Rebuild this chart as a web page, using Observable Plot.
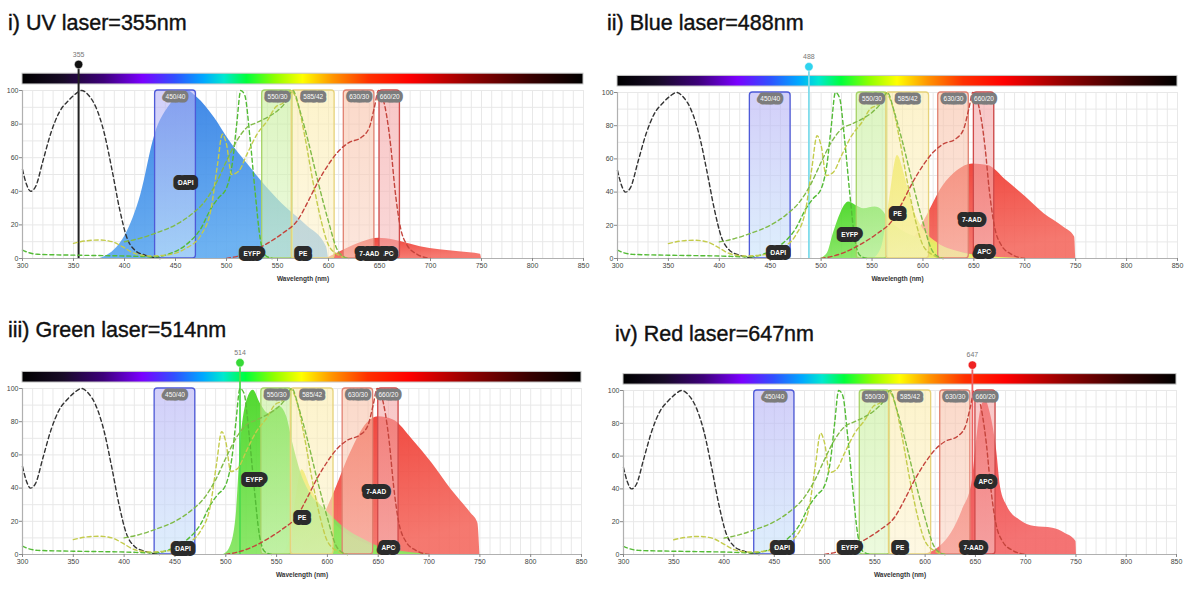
<!DOCTYPE html>
<html><head><meta charset="utf-8">
<script src="https://cdn.jsdelivr.net/npm/d3@7"></script>
<script src="https://cdn.jsdelivr.net/npm/@observablehq/plot@0.6"></script>
<style>
body{margin:0;background:#fff;width:1190px;height:601px;position:relative;overflow:hidden;font-family:"Liberation Sans",Arial,sans-serif}
.title{position:absolute;font-size:21.5px;line-height:1;color:#111;-webkit-text-stroke:0.4px #111;white-space:nowrap}
.panel{position:absolute}
</style></head><body>
<script>
// ---------- DATA ----------
const xDomain = [300, 850];
const xTicks = [300, 350, 400, 450, 500, 550, 600, 650, 700, 750, 800, 850];
const yTicks = [0, 20, 40, 60, 80, 100];

const panelTitles = ["i) UV laser=355nm", "ii) Blue laser=488nm", "iii) Green laser=514nm", "iv) Red laser=647nm"];
const laserNm = [355, 488, 514, 647];

// filters: names and edges (nm)
const filterNames = ["450/40", "550/30", "585/42", "630/30", "660/20"];
const filterLo = [430, 535, 564, 615, 650];
const filterHi = [470, 565, 606, 645, 670];

// excitation spectra (nm, %) - shared by all panels
const dapiEx = [[300,53],[304,44],[308,40],[313,43],[320,58],[328,75],[336,87],[345,94],[352,98],[358,100],[365,97],[372,90],[380,75],[388,52],[395,30],[402,13],[410,5],[420,2],[435,0]];
const eyfpEx = [[300,5],[306,3.5],[315,2.5],[350,2],[400,1.5],[430,1],[445,3],[460,8],[475,18],[485,30],[492,36],[500,42],[506,58],[510,80],[514,100],[518,97],[523,72],[528,40],[533,12],[538,2],[545,0]];
const peEx = [[350,9],[362,10.5],[375,11],[388,10],[398,7],[410,3],[425,1.5],[440,2],[460,6],[475,14],[485,30],[491,55],[496,74],[500,68],[505,50],[512,52],[520,62],[530,74],[540,82],[548,90],[556,93],[563,100],[570,92],[577,72],[585,45],[593,22],[600,8],[610,2],[620,0]];
const aadEx = [[400,10],[415,12],[430,15],[450,20],[465,26],[480,35],[490,45],[500,58],[510,70],[520,78],[530,81],[540,84],[550,88],[558,93],[565,100],[572,88],[580,70],[590,45],[600,22],[608,6],[615,1],[620,0]];
const apcEx = [[500,0],[520,3],[540,9],[555,15],[570,23],[580,34],[590,46],[600,56],[610,64],[620,69],[632,72],[640,78],[645,90],[649,100],[653,96],[657,85],[661,67],[665,42],[670,20],[677,8],[687,2.5],[700,0]];

// emission spectra as seen under each laser (nm, %)
const uvDapiEm = [[376,0],[390,5],[401,14],[416,38],[430,74],[443,90],[454,97],[461,100],[471,96],[488,84],[503,70],[521,56],[540,42],[559,30],[578,20],[598,7],[600,0]];
const uvAadEm = [[598,0],[615,5],[634,10],[649,12],[664,11],[690,7],[728,4],[749,2.6],[750,0]];

const blueEyfpEm = [[499,0],[506,3],[512,15],[519,27],[527,34],[534,32],[542,30],[553,31],[560,29],[567,23],[579,17],[597,12],[616,8],[634,4],[653,2],[690,0]];
const bluePeEm = [[552,0],[560,8],[567,35],[575,62],[582,50],[590,31],[600,18],[615,9],[635,4],[655,1.5],[700,0]];
const blueAadEm = [[575,0],[590,11],[605,27],[619,43],[634,53],[649,57],[664,56],[682,47],[701,37],[719,27],[738,19],[749,13],[750,0]];

const greenEyfpEm = [[498,0],[504,4],[510,22],[515,69],[521,93],[527,99],[534,91],[542,85],[553,89],[560,83],[566,67],[574,49],[583,37],[598,27],[617,16],[636,9],[654,4],[672,2],[699,0]];
const greenPeEm = [[556,0],[564,12],[568,29],[575,51],[583,41],[594,29],[605,20],[620,12],[640,6],[660,2],[700,0]];
const greenAadEm = [[575,0],[576,5],[587,12],[605,35],[624,63],[639,79],[650,83],[665,81],[684,69],[703,55],[722,39],[741,25],[748,19],[750,0]];

const redApcEm = [[600,0],[615,5],[626,13],[637,27],[647,45],[652,74],[656,90],[660,94],[664,88],[671,64],[675,41],[682,29],[694,21],[709,17],[727,16],[739,13],[750,8],[750.5,0]];

// fluorophore label anchors per panel [name, nm, %]
const labelsUV = [["APC",657,3],["DAPI",460,45],["EYFP",525,3],["PE",575,3],["7-AAD",640,3]];
const labelsBlue = [["DAPI",458,3.5],["EYFP",528,14],["PE",575,27],["7-AAD",648,23],["APC",660,4]];
const labelsGreen = [["DAPI",458,3.5],["EYFP",528,45],["PE",575,22],["7-AAD",648,38],["APC",660,4]];
const labelsRed = [["DAPI",458,4],["EYFP",525,4],["PE",575,4],["7-AAD",648,4],["APC",660,44]];

// ---------- STYLES ----------
const spectrumStops = [[300,"#000000"],[340,"#170a26"],[380,"#3d007a"],[418,"#7a00ff"],[450,"#3050ff"],[478,"#00a8ff"],[498,"#00e8d0"],[520,"#00ff3c"],[548,"#90ff00"],[575,"#ffff00"],[605,"#ff9400"],[640,"#ff3000"],[680,"#ff0000"],[740,"#900000"],[800,"#360000"],[850,"#000000"]];
const filterStyle = [
  {top:"#b4aef5", bot:"#c8e4fb", stroke:"#4e5ad8"},
  {top:"#c4ee96", bot:"#e0f7c8", stroke:"#a6d266"},
  {top:"#fbeba8", bot:"#fdf3d0", stroke:"#e6d27a"},
  {top:"#f8c0a6", bot:"#fad6c6", stroke:"#e08070"},
  {top:"#f4a2a2", bot:"#f6bebe", stroke:"#d04a4a"}
];
const emStyle = {
  dapi:{top:"#2474e2", bot:"#5eaaf0"},
  eyfp:{top:"#3cd418", bot:"#86e660"},
  pe:{top:"#e4e414", bot:"#f0f070"},
  aad:{top:"#ee2c22", bot:"#f46a60"},
  apc:{top:"#ee2424", bot:"#f36464"}
};
const laserColor = ["#111111", "#2fd3ee", "#36d936", "#ef2222"];
const laserLine = ["#222222", "#7fdceb", "#4fdc4f", "#f06060"];

// ---------- DRAW ----------
const xs = v => v;
function defsMark(id) {
  return () => {
    const defs = d3.create("svg:defs");
    const s = defs.append("linearGradient").attr("id", id + "spec").attr("x1", 0).attr("x2", 1).attr("y1", 0).attr("y2", 0);
    spectrumStops.forEach(([nm, c]) => s.append("stop").attr("offset", (nm - 300) / 550).attr("stop-color", c));
    filterStyle.forEach((f, i) => {
      const g = defs.append("linearGradient").attr("id", id + "f" + i).attr("x1", 0).attr("x2", 0).attr("y1", 0).attr("y2", 1);
      g.append("stop").attr("offset", 0).attr("stop-color", f.top);
      g.append("stop").attr("offset", 1).attr("stop-color", f.bot);
    });
    Object.entries(emStyle).forEach(([k, f]) => {
      const g = defs.append("linearGradient").attr("id", id + "e" + k).attr("x1", 0).attr("x2", 0.35).attr("y1", 0).attr("y2", 1);
      g.append("stop").attr("offset", 0).attr("stop-color", f.top);
      g.append("stop").attr("offset", 1).attr("stop-color", f.bot);
    });
    return defs.node();
  };
}

function makePanel(idx, geo, emissions, labels) {
  const id = "p" + idx;
  const laser = laserNm[idx];
  const marks = [defsMark(id)];
  marks.push(Plot.gridX(d3.range(300, 851, 10), {stroke: "#e8e8e8", strokeOpacity: 1}));
  marks.push(Plot.gridY(d3.range(0, 101, 10), {stroke: "#e8e8e8", strokeOpacity: 1}));
  // spectrum bar
  marks.push(Plot.rect([xDomain], {x1: d => d[0], x2: d => d[1], y1: 103.6, y2: 110, fill: `url(#${id}spec)`, stroke: "#c8c8c8", strokeWidth: 1}));
  // emissions
  emissions.forEach(([data, key]) => {
    marks.push(Plot.areaY(data, {x: d => d[0], y: d => d[1], fill: `url(#${id}e${key})`, fillOpacity: 0.9, curve: "monotone-x"}));
  });
  // filters
  filterNames.forEach((n, i) => {
    marks.push(Plot.rect([i], {x1: i => filterLo[i], x2: i => filterHi[i], y1: 0, y2: 100, rx: 3, fill: `url(#${id}f${i})`, fillOpacity: 0.6, stroke: filterStyle[i].stroke, strokeWidth: 1.3}));
  });
  // laser line
  marks.push(Plot.ruleX([laser], {y1: 0, y2: 115.5, stroke: laserLine[idx], strokeWidth: idx === 0 ? 2 : 1.8}));
  // excitation curves
  const exs = [[dapiEx, "#333333"], [eyfpEx, "#54bb36"], [peEx, "#c4cc4c"], [aadEx, "#80bb48"], [apcEx, "#c4443c"]];
  exs.forEach(([data, c]) => marks.push(Plot.line(data, {x: d => d[0], y: d => d[1], stroke: c, strokeWidth: 1.4, strokeDasharray: "4,3", curve: "monotone-x"})));
  // axes
  marks.push(Plot.ruleY([0], {stroke: "#b0b0b0", strokeWidth: 1.2}));
  marks.push(Plot.ruleX([300], {y1: 0, y2: 100, stroke: "#b0b0b0", strokeWidth: 1.2}));
  marks.push(Plot.axisX({ticks: xTicks, tickSize: 3, tickPadding: 2, label: null, fontSize: 7, stroke: "#888", fill: "#444"}));
  marks.push(Plot.axisY({ticks: yTicks, tickSize: 3, tickPadding: 1, label: null, fontSize: 7, stroke: "#888", fill: "#444"}));
  // laser marker
  marks.push(Plot.dot([laser], {x: xs, y: 115.5, r: 4.2, fill: laserColor[idx], stroke: "white", strokeWidth: 0.5}));
  marks.push(Plot.text([laser], {x: xs, y: 121.5, text: d => String(d), fill: "#777", fontSize: 7}));
  // filter labels
  marks.push(Plot.text(filterNames, {x: (d, i) => (filterLo[i] + filterHi[i]) / 2, y: 96.3, text: d => d, fill: "#fafafa", stroke: "#7c7c7c", strokeWidth: 7, strokeLinejoin: "round", paintOrder: "stroke", fontSize: 6.5}));
  // fluor labels
  marks.push(Plot.text(labels, {x: d => d[1], y: d => d[2], text: d => d[0], fill: "#ffffff", stroke: "#2b2b2b", strokeWidth: 10, strokeLinejoin: "round", paintOrder: "stroke", fontSize: 6.5, fontWeight: "bold"}));
  marks.push(Plot.text(["Wavelength (nm)"], {frameAnchor: "bottom", dy: 22, text: d => d, fill: "#333", fontSize: 6.5, fontWeight: "bold"}));

  const svg = Plot.plot({
    width: geo.width, height: geo.height,
    marginLeft: geo.ml, marginRight: geo.mr, marginTop: geo.mt, marginBottom: geo.mb,
    x: {domain: xDomain, ticks: xTicks},
    y: {domain: [0, 100], ticks: yTicks},
    style: {fontFamily: "Liberation Sans, Arial, sans-serif", background: "transparent", overflow: "visible"},
    marks
  });
  const wrap = document.createElement("div");
  wrap.className = "panel";
  wrap.style.left = geo.left + "px";
  wrap.style.top = geo.top + "px";
  wrap.appendChild(svg);
  document.body.appendChild(wrap);

  const t = document.createElement("div");
  t.className = "title";
  t.textContent = panelTitles[idx];
  t.style.left = geo.tx + "px";
  t.style.top = geo.ty + "px";
  document.body.appendChild(t);
}

makePanel(0, {left: 0, top: 40, width: 595, height: 250, ml: 22, mr: 12, mt: 50, mb: 32, tx: 8, ty: 13},
  [[uvDapiEm, "dapi"], [uvAadEm, "aad"]], labelsUV);
makePanel(1, {left: 595, top: 42, width: 595, height: 248, ml: 22, mr: 13, mt: 50, mb: 32, tx: 607, ty: 13},
  [[blueAadEm, "aad"], [blueEyfpEm, "eyfp"], [bluePeEm, "pe"]], labelsBlue);
makePanel(2, {left: 0, top: 338, width: 595, height: 248, ml: 22, mr: 14, mt: 50, mb: 32, tx: 8, ty: 320},
  [[greenAadEm, "aad"], [greenPeEm, "pe"], [greenEyfpEm, "eyfp"]], labelsGreen);
makePanel(3, {left: 600, top: 340, width: 590, height: 246, ml: 23, mr: 14, mt: 50, mb: 32, tx: 615, ty: 324},
  [[redApcEm, "apc"]], labelsRed);
</script>
</body></html>
